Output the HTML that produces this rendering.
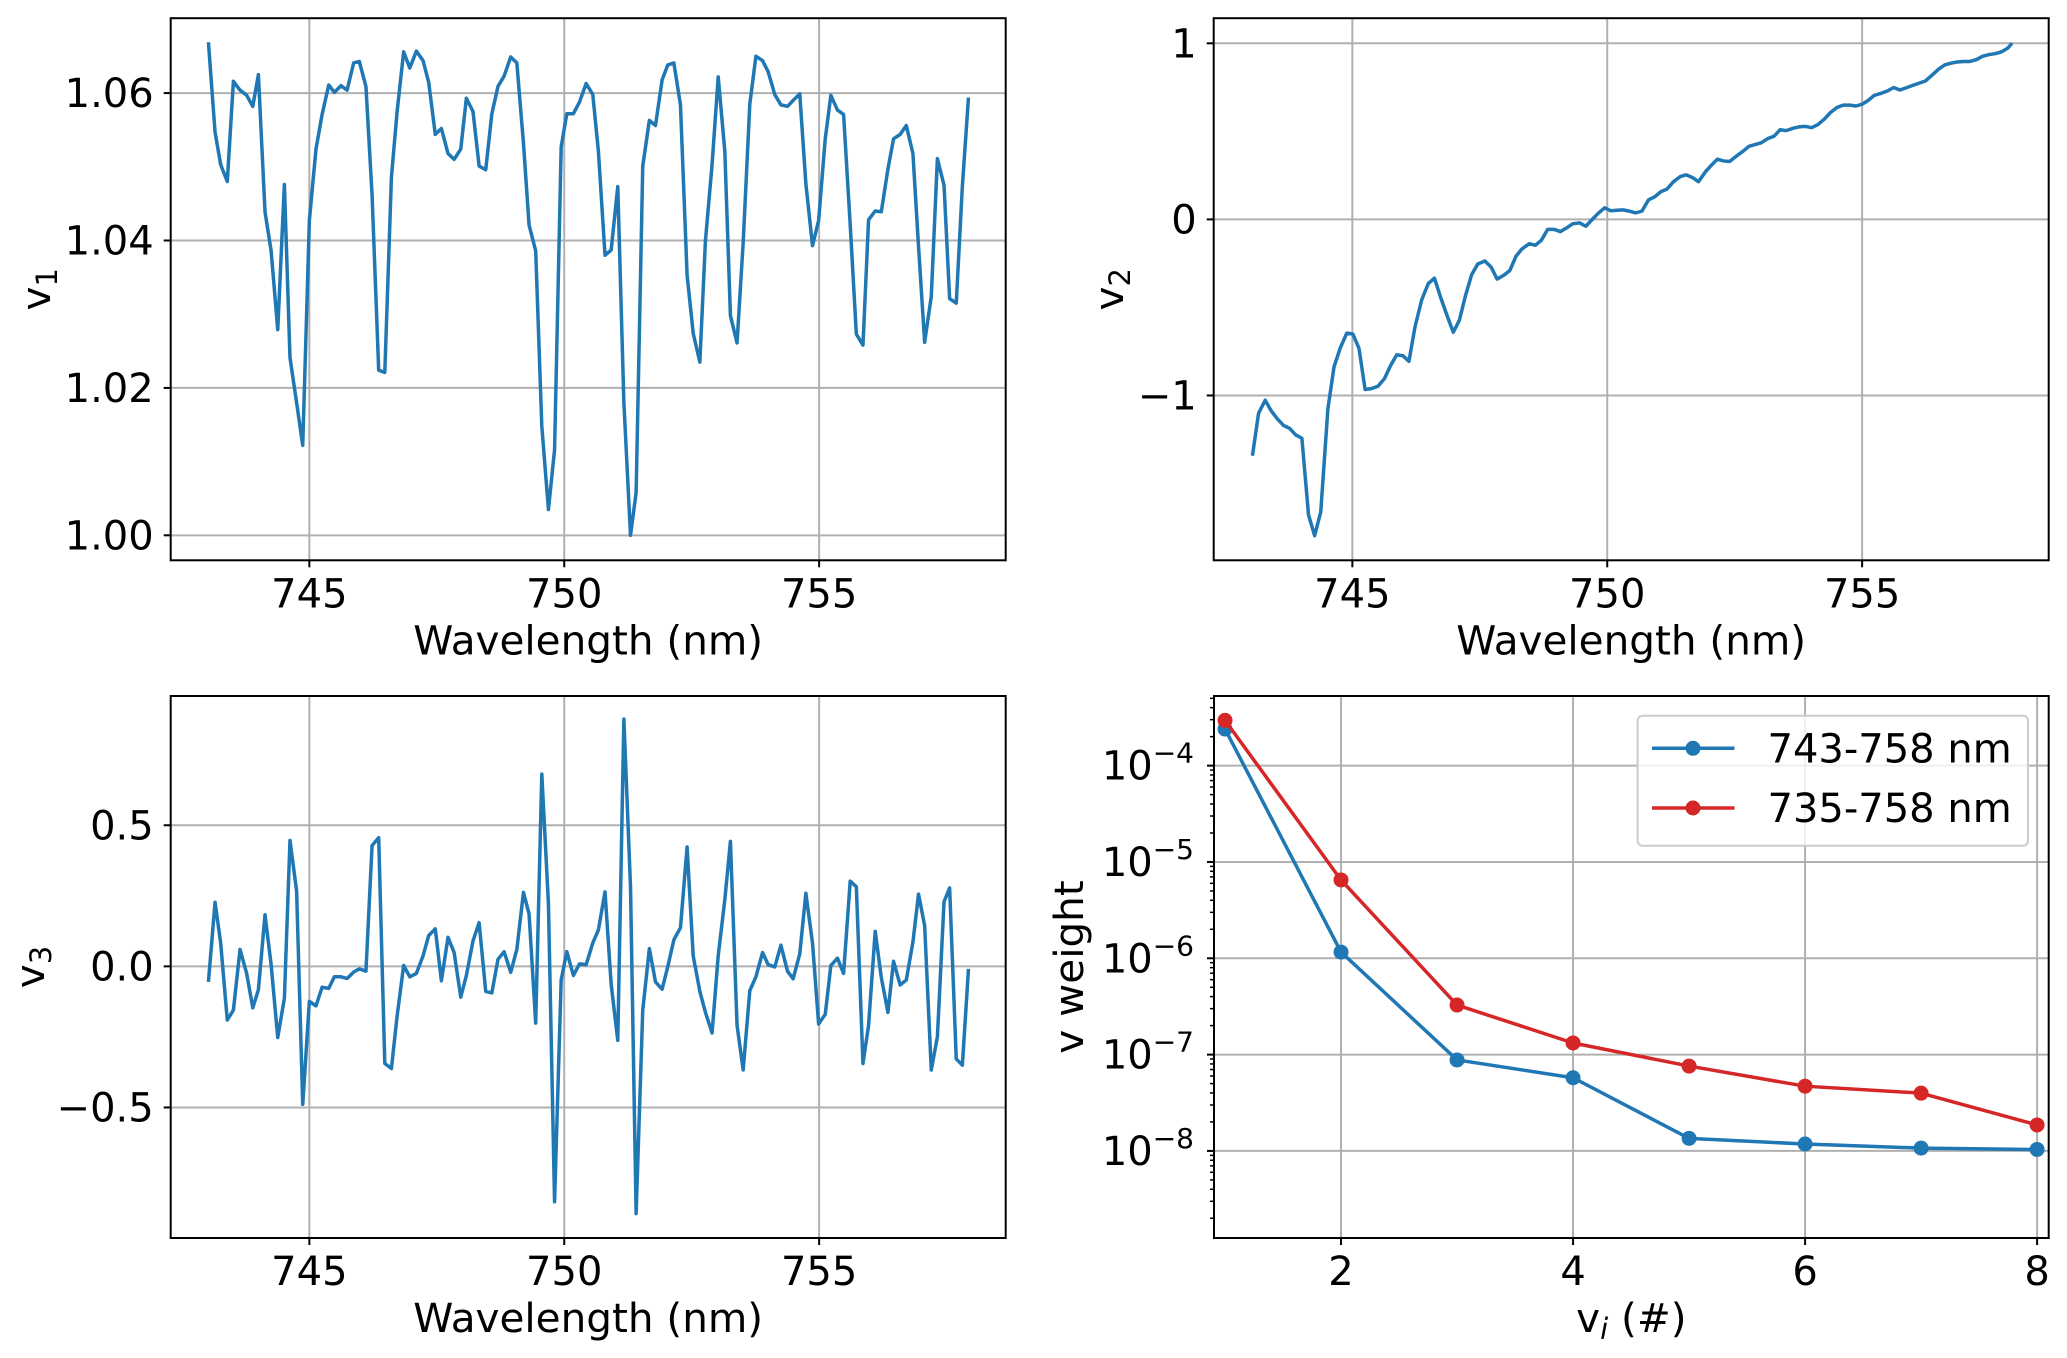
<!DOCTYPE html>
<html><head><meta charset="utf-8"><title>Singular vectors</title>
<style>
html,body{margin:0;padding:0;background:#fff;}
svg{display:block;font-family:"DejaVu Sans","Liberation Sans",sans-serif;}
</style></head>
<body>
<svg id="fig" width="2067" height="1358" viewBox="0 0 2067 1358" xmlns="http://www.w3.org/2000/svg"></svg>
<script>
// ---------- data ----------
const wl1 = [743.02,743.15,743.26,743.39,743.51,743.64,743.77,743.89,744.00,744.13,744.25,744.38,744.51,744.62,744.75,744.87,745.00,745.13,745.25,745.38,745.49,745.62,745.74,745.87,745.98,746.11,746.23,746.36,746.48,746.61,746.72,746.85,746.97,747.10,747.23,747.34,747.47,747.59,747.72,747.84,747.97,748.08,748.21,748.33,748.46,748.58,748.70,748.82,748.95,749.07,749.20,749.31,749.44,749.56,749.69,749.81,749.94,750.05,750.18,750.30,750.43,750.56,750.67,750.80,750.92,751.05,751.17,751.30,751.41,751.54,751.67,751.79,751.92,752.03,752.15,752.28,752.41,752.53,752.66,752.77,752.90,753.02,753.15,753.26,753.39,753.51,753.64,753.76,753.89,754.00,754.13,754.25,754.38,754.49,754.62,754.74,754.87,754.99,755.12,755.23,755.36,755.48,755.61,755.73,755.86,755.97,756.10,756.22,756.35,756.46,756.59,756.71,756.84,756.95,757.07,757.20,757.32,757.45,757.56,757.69,757.81,757.93];
const v1 = [1.0669,1.0547,1.0503,1.0480,1.0616,1.0604,1.0597,1.0582,1.0625,1.0439,1.0386,1.0279,1.0476,1.0241,1.0180,1.0122,1.0427,1.0524,1.0571,1.0611,1.0601,1.0610,1.0604,1.0641,1.0643,1.0609,1.0462,1.0224,1.0221,1.0486,1.0574,1.0656,1.0634,1.0657,1.0644,1.0615,1.0544,1.0552,1.0518,1.0510,1.0524,1.0593,1.0575,1.0501,1.0496,1.0572,1.0609,1.0623,1.0649,1.0641,1.0532,1.0421,1.0386,1.0148,1.0035,1.0116,1.0527,1.0572,1.0572,1.0588,1.0613,1.0598,1.0521,1.0380,1.0387,1.0473,1.0180,1.0000,1.0058,1.0501,1.0563,1.0556,1.0618,1.0638,1.0641,1.0584,1.0353,1.0274,1.0235,1.0400,1.0503,1.0622,1.0521,1.0298,1.0261,1.0397,1.0585,1.0650,1.0644,1.0629,1.0598,1.0584,1.0582,1.0590,1.0599,1.0477,1.0393,1.0427,1.0538,1.0597,1.0577,1.0571,1.0421,1.0273,1.0258,1.0428,1.0440,1.0439,1.0497,1.0538,1.0544,1.0556,1.0518,1.0392,1.0262,1.0324,1.0511,1.0475,1.0321,1.0315,1.0474,1.0594];
const v3 = [-0.055,0.227,0.083,-0.190,-0.155,0.060,-0.025,-0.147,-0.083,0.183,0.006,-0.252,-0.113,0.446,0.267,-0.489,-0.124,-0.140,-0.074,-0.078,-0.037,-0.037,-0.043,-0.020,-0.009,-0.017,0.428,0.456,-0.344,-0.362,-0.178,0.003,-0.037,-0.025,0.037,0.109,0.133,-0.051,0.103,0.049,-0.109,-0.032,0.090,0.155,-0.089,-0.094,0.025,0.052,-0.021,0.060,0.262,0.186,-0.201,0.681,0.221,-0.834,-0.048,0.052,-0.032,0.009,0.006,0.083,0.129,0.264,-0.063,-0.262,0.876,0.282,-0.876,-0.155,0.063,-0.055,-0.081,-0.002,0.094,0.137,0.423,0.037,-0.089,-0.163,-0.236,0.037,0.236,0.443,-0.209,-0.367,-0.086,-0.037,0.049,0.006,-0.002,0.075,-0.017,-0.044,0.044,0.259,0.083,-0.204,-0.170,0.003,0.029,-0.025,0.302,0.282,-0.344,-0.209,0.124,-0.040,-0.163,0.018,-0.066,-0.048,0.086,0.256,0.144,-0.367,-0.250,0.229,0.278,-0.328,-0.350,-0.009];
const wl2 = [743.04,743.16,743.29,743.41,743.53,743.65,743.77,743.89,744.01,744.14,744.26,744.38,744.52,744.64,744.76,744.89,745.01,745.13,745.25,745.37,745.50,745.63,745.75,745.87,745.99,746.11,746.23,746.36,746.49,746.61,746.74,746.86,746.98,747.10,747.22,747.34,747.46,747.60,747.72,747.84,747.97,748.09,748.21,748.33,748.47,748.59,748.71,748.83,748.96,749.08,749.20,749.32,749.46,749.58,749.70,749.82,749.95,750.07,750.19,750.31,750.43,750.56,750.68,750.81,750.93,751.05,751.17,751.30,751.43,751.55,751.67,751.79,751.92,752.04,752.16,752.28,752.40,752.54,752.66,752.78,752.90,753.02,753.15,753.27,753.39,753.51,753.65,753.77,753.89,754.01,754.13,754.26,754.38,754.51,754.63,754.75,754.88,755.00,755.12,755.24,755.38,755.50,755.62,755.74,755.86,756.00,756.12,756.24,756.36,756.50,756.62,756.74,756.86,756.99,757.11,757.24,757.36,757.49,757.61,757.73,757.85,757.94];
const v2 = [-1.342,-1.101,-1.027,-1.088,-1.133,-1.170,-1.187,-1.224,-1.243,-1.678,-1.796,-1.661,-1.076,-0.838,-0.732,-0.646,-0.651,-0.732,-0.966,-0.961,-0.948,-0.904,-0.830,-0.769,-0.774,-0.806,-0.609,-0.457,-0.364,-0.334,-0.450,-0.548,-0.641,-0.572,-0.432,-0.314,-0.253,-0.236,-0.270,-0.339,-0.317,-0.290,-0.209,-0.167,-0.138,-0.147,-0.118,-0.057,-0.057,-0.069,-0.049,-0.025,-0.020,-0.039,-0.002,0.034,0.066,0.049,0.052,0.054,0.047,0.037,0.047,0.111,0.128,0.157,0.172,0.214,0.243,0.253,0.238,0.214,0.268,0.307,0.342,0.332,0.329,0.361,0.386,0.415,0.425,0.435,0.459,0.472,0.509,0.504,0.518,0.526,0.528,0.521,0.538,0.570,0.607,0.636,0.649,0.649,0.644,0.654,0.676,0.705,0.717,0.730,0.749,0.735,0.747,0.762,0.774,0.786,0.816,0.853,0.877,0.887,0.894,0.897,0.897,0.907,0.926,0.936,0.941,0.951,0.971,1.0];
const vIndex = [1,2,3,4,5,6,7,8];
const w743 = [2.4e-4,1.16e-6,8.8e-8,5.75e-8,1.35e-8,1.18e-8,1.07e-8,1.035e-8];
const w735 = [2.95e-4,6.5e-6,3.27e-7,1.32e-7,7.6e-8,4.7e-8,3.98e-8,1.86e-8];
const wlTicks = [745,750,755];
const v1Ticks = [1.00,1.02,1.04,1.06];
const v1TickLabels = ["1.00","1.02","1.04","1.06"];
const v2Ticks = [-1,0,1];
const v2TickLabels = ["\u22121","0","1"];
const v3Ticks = [-0.5,0,0.5];
const v3TickLabels = ["\u22120.5","0.0","0.5"];
const idxTicks = [2,4,6,8];
const expTicks = [-8,-7,-6,-5,-4];
const legendLabels = ["743-758 nm","735-758 nm"];

// ---------- helpers ----------
const NS = "http://www.w3.org/2000/svg";
const svg = document.getElementById('fig');
function mk(tag, attrs, parent){
  const e = document.createElementNS(NS, tag);
  for (const k in attrs) e.setAttribute(k, attrs[k]);
  (parent||svg).appendChild(e);
  return e;
}
const BLUE = "#1f77b4", RED = "#d62728", GRID = "#b0b0b0";
const LBL = 40.5, LW = 3.5;

function makeAxes(box, xd, yd, log){
  const sx = v => box.x0 + (v - xd[0])/(xd[1]-xd[0])*(box.x1-box.x0);
  const sy = v => { const t = log ? Math.log10(v) : v; return box.y1 - (t - yd[0])/(yd[1]-yd[0])*(box.y1-box.y0); };
  return {sx, sy};
}
function frame(g, box){
  const r = mk('rect',{x:box.x0,y:box.y0,width:box.x1-box.x0,height:box.y1-box.y0,fill:'none',stroke:'#000','stroke-width':2},g);
  
  
}
function xTicks(g, box, ax, ticks, labels, name){
  ticks.forEach((t,i)=>{
    const x = ax.sx(t);
    const gl = mk('line',{x1:x,x2:x,y1:box.y0,y2:box.y1,stroke:GRID,'stroke-width':2},g);
    
    
    mk('line',{x1:x,x2:x,y1:box.y1,y2:box.y1+7,stroke:'#000','stroke-width':2},g);
    const tx = mk('text',{x:x,y:box.y1+47,'font-size':40,'text-anchor':'middle',fill:'#000'},g);
    tx.textContent = labels ? labels[i] : String(t);
    
    
  });
}
function yTicks(g, box, ax, ticks, labels, name){
  ticks.forEach((t,i)=>{
    const y = ax.sy(t);
    const gl = mk('line',{x1:box.x0,x2:box.x1,y1:y,y2:y,stroke:GRID,'stroke-width':2},g);
    
    
    mk('line',{x1:box.x0-7,x2:box.x0,y1:y,y2:y,stroke:'#000','stroke-width':2},g);
    const tx = mk('text',{x:box.x0-17,y:y+14,'font-size':40,'text-anchor':'end',fill:'#000'},g);
    tx.textContent = labels[i];
    
    
  });
}
function line(g, ax, xs, ys, color, name){
  const d = xs.map((x,i)=>(i?'L':'M')+ax.sx(x).toFixed(2)+','+ax.sy(ys[i]).toFixed(2)).join('');
  const p = mk('path',{d:d,fill:'none',stroke:color,'stroke-width':LW,'stroke-linejoin':'round'},g);
  
  
  return p;
}
function xLabel(g, box, text, name){
  const t = mk('text',{x:(box.x0+box.x1)/2,y:box.y1+94,'font-size':LBL,'text-anchor':'middle',fill:'#000'},g);
  t.textContent = text;
  
  
  return t;
}
function yLabelSub(g, cx, cy, main, sub, name){
  const t = mk('text',{transform:`translate(${cx+13},${cy}) rotate(-90)`,'font-size':LBL,'text-anchor':'middle',fill:'#000'},g);
  
  
  const a = mk('tspan',{},t); a.textContent = main;
  if (sub){ const b = mk('tspan',{'font-size':29,dy:7},t); b.textContent = sub; }
}

const wlDom = [742.28, 758.66];

// ---------- panel 1 ----------
{
  const g = mk('g',{});  
  const box = {x0:170.7,x1:1005.7,y0:18.2,y1:560.3};
  const ax = makeAxes(box, wlDom, [0.99661,1.07016], false);
  xTicks(g, box, ax, wlTicks, null, 'x');
  yTicks(g, box, ax, v1Ticks, v1TickLabels, 'y');
  line(g, ax, wl1, v1, BLUE, 'v1-line');
  frame(g, box);
  xLabel(g, box, 'Wavelength (nm)', 'x-axis-title');
  yLabelSub(g, 37, (box.y0+box.y1)/2, 'v', '1', 'y-axis-title');
}
// ---------- panel 2 ----------
{
  const g = mk('g',{});  
  const box = {x0:1213.7,x1:2048.7,y0:18.2,y1:560.3};
  const ax = makeAxes(box, wlDom, [-1.936,1.1426], false);
  xTicks(g, box, ax, wlTicks, null, 'x');
  yTicks(g, box, ax, v2Ticks, v2TickLabels, 'y');
  line(g, ax, wl2, v2, BLUE, 'v2-line');
  frame(g, box);
  xLabel(g, box, 'Wavelength (nm)', 'x-axis-title');
  yLabelSub(g, 1110, (box.y0+box.y1)/2, 'v', '2', 'y-axis-title');
}
// ---------- panel 3 ----------
{
  const g = mk('g',{});  
  const box = {x0:170.7,x1:1005.7,y0:696,y1:1238};
  const ax = makeAxes(box, wlDom, [-0.9625,0.958], false);
  xTicks(g, box, ax, wlTicks, null, 'x');
  yTicks(g, box, ax, v3Ticks, v3TickLabels, 'y');
  line(g, ax, wl1, v3, BLUE, 'v3-line');
  frame(g, box);
  xLabel(g, box, 'Wavelength (nm)', 'x-axis-title');
  yLabelSub(g, 31, (box.y0+box.y1)/2, 'v', '3', 'y-axis-title');
}
// ---------- panel 4 ----------
{
  const g = mk('g',{});  
  const box = {x0:1214,x1:2048.7,y0:696,y1:1238};
  const ax = makeAxes(box, [0.905,8.10], [-8.904,-3.277], true);
  xTicks(g, box, ax, idxTicks, null, 'x');
  expTicks.forEach(e=>{
    const y = ax.sy(Math.pow(10,e));
    const gl = mk('line',{x1:box.x0,x2:box.x1,y1:y,y2:y,stroke:GRID,'stroke-width':2},g);
    
    
    mk('line',{x1:box.x0-7,x2:box.x0,y1:y,y2:y,stroke:'#000','stroke-width':2},g);
    const t = mk('text',{x:box.x0-20,y:y+14,'font-size':40,'text-anchor':'end',fill:'#000'},g);
    
    
    const a = mk('tspan',{},t); a.textContent = '10';
    const b = mk('tspan',{'font-size':28,dy:-17},t); b.textContent = '\u2212'+Math.abs(e);
  });
  for (let e=-9; e<=-3; e++){
    for (let m=2; m<=9; m++){
      const v = m*Math.pow(10,e);
      const y = ax.sy(v);
      if (y < box.y0 || y > box.y1) continue;
      mk('line',{x1:box.x0-4,x2:box.x0,y1:y,y2:y,stroke:'#000','stroke-width':1.5},g);
    }
  }
  const series = [[w743,BLUE,'series-743-758'],[w735,RED,'series-735-758']];
  series.forEach(([vals,col,nm])=>{
    line(g, ax, vIndex, vals, col, nm+'-line');
    vals.forEach((v,i)=>{
      const c = mk('circle',{cx:ax.sx(vIndex[i]),cy:ax.sy(v),r:7.5,fill:col},g);
      
      
    });
  });
  frame(g, box);
  const xl = mk('text',{x:(box.x0+box.x1)/2,y:box.y1+94,'font-size':LBL,'text-anchor':'middle',fill:'#000'},g);
  
  
  const x1 = mk('tspan',{},xl); x1.textContent='v';
  const x2 = mk('tspan',{'font-size':29,dy:7,'font-style':'italic'},xl); x2.textContent='i';
  const x3 = mk('tspan',{dy:-7},xl); x3.textContent=' (#)';
  const yl = mk('text',{transform:`translate(1083,${(box.y0+box.y1)/2}) rotate(-90)`,'font-size':LBL,'text-anchor':'middle',fill:'#000'},g);
  yl.textContent = 'v weight';
  
  
  const lg = mk('g',{},g);
  
  
  mk('rect',{x:1637.6,y:715.8,width:390.4,height:130,rx:5,fill:'#fff','fill-opacity':0.8,stroke:'#cccccc','stroke-width':2},lg);
  const ly = [748.3, 808];
  [BLUE,RED].forEach((col,i)=>{
    const le = mk('g',{},lg);
    
    
    mk('line',{x1:1652,x2:1734.5,y1:ly[i],y2:ly[i],stroke:col,'stroke-width':LW},le);
    mk('circle',{cx:1693,cy:ly[i],r:7.5,fill:col},le);
    const t = mk('text',{x:1767.5,y:ly[i]+14,'font-size':40,fill:'#000'},le);
    t.textContent = legendLabels[i];
  });
}
</script>
</body></html>
